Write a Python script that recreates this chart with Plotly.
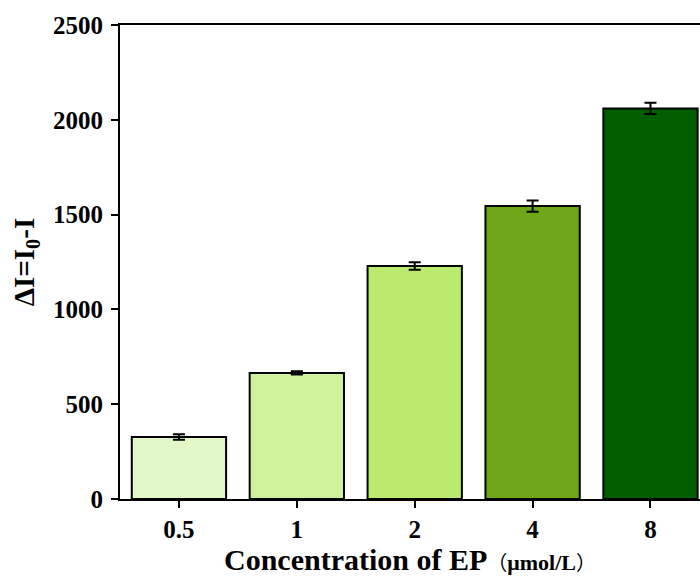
import plotly.graph_objects as go

categories = ["0.5", "1", "2", "4", "8"]
values = [327, 665, 1229, 1545, 2060]
errors = [15, 9, 20, 30, 30]
colors = ["#e2f7c8", "#d0f29a", "#bbeb6e", "#6ea818", "#005e00"]

fig = go.Figure()
fig.add_trace(go.Bar(
    x=list(range(len(categories))), y=values,
    width=0.8,
    marker=dict(color=colors, line=dict(color="black", width=2)),
    error_y=dict(type="data", array=errors, visible=True, color="black", thickness=2, width=6),
))

font = dict(family="Liberation Serif", size=25, color="black")
xtitle = ("<b>Concentration of EP</b>"
          "<span style='font-family:\"Noto Sans CJK SC\";font-size:20px'>（</span>"
          "<span style='font-size:22px'><b>μmol/L</b></span>"
          "<span style='font-family:\"Noto Sans CJK SC\";font-size:20px'>）</span>")
fig.update_layout(
    width=700, height=577,
    margin=dict(l=120, r=0, t=25, b=78),
    plot_bgcolor="white", paper_bgcolor="white",
    showlegend=False,
    font=font,
    xaxis=dict(
        range=[-0.5, 4.42],
        tickmode="array", tickvals=list(range(len(categories))),
        ticktext=["<b>%s</b>" % c for c in categories],
        ticks="outside", ticklen=7, tickwidth=2, tickcolor="black",
        showline=True, linewidth=2, linecolor="black", mirror=True,
        showgrid=False, zeroline=False, automargin=False,
        tickfont=dict(family="Liberation Serif", size=25),
        title=dict(text=xtitle, font=dict(family="Liberation Serif", size=30), standoff=3),
        fixedrange=True,
    ),
    yaxis=dict(
        range=[0, 2500],
        tickvals=[0, 500, 1000, 1500, 2000, 2500],
        ticktext=["<b>%d</b>" % v for v in [0, 500, 1000, 1500, 2000, 2500]],
        ticks="outside", ticklen=7, tickwidth=2, tickcolor="black",
        showline=True, linewidth=2, linecolor="black", mirror=False,
        showgrid=False, zeroline=False, automargin=False,
        tickfont=dict(family="Liberation Serif", size=25),
        ticklabelstandoff=3,
        title=dict(text="<b>ΔI=I<sub>0</sub>-I</b>", font=dict(family="Liberation Serif", size=29), standoff=10),
        fixedrange=True,
    ),
)

fig.write_html("out.html", config={"displayModeBar": False},
               post_script="document.body.style.margin='0px';document.body.style.overflow='hidden';")
